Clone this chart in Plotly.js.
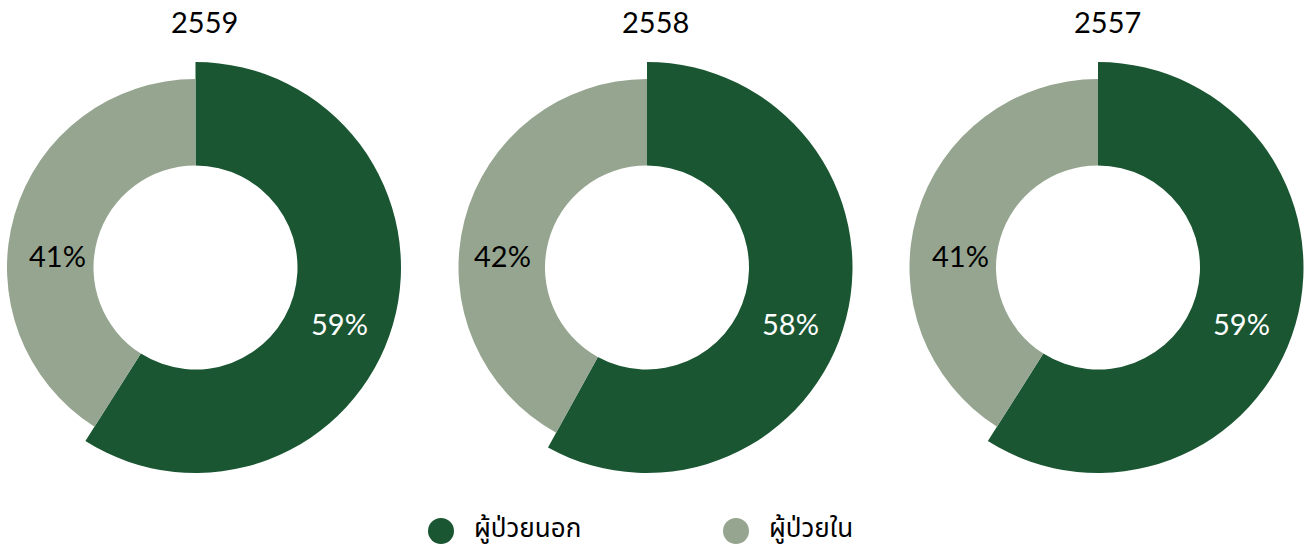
<!DOCTYPE html>
<html><head><meta charset="utf-8">
<script src="https://cdn.plot.ly/plotly-3.0.1.min.js"></script>
<style>html,body{margin:0;padding:0;overflow:hidden;background:#fff}#chart{position:absolute;left:-20px;top:0;width:1327px;height:551px}</style>
</head><body><div id="chart"></div>
<script>
const years = ['2559', '2558', '2557'];
const outpatient = [59, 58, 59];
const inpatient = [41, 42, 41];
const labels = ['ผู้ป่วยนอก', 'ผู้ป่วยใน'];
const colors = ['#1b5633', '#96a590'];

const W = 1327, H = 551;
const centersX = [215.5, 667, 1118];
const cy = 283.5;
const rBig = 205.5, rSmall = 188.5, rHole = 102;
const numFont = 'Lato, "Noto Sans", sans-serif';
// label offsets (px from donut centre) for each donut: [outpatient, inpatient]
const labelOffsets = [[[144, -56], [-138, 12]], [[143, -56], [-145, 12]], [[143, -56], [-138, 12]]];

const traces = [];
const annotations = [];
years.forEach((yr, i) => {
  const cx = centersX[i];
  const vals = [outpatient[i], inpatient[i]];
  traces.push({
    type: 'pie', values: vals, labels: labels, sort: false, direction: 'clockwise', rotation: 0,
    hole: rHole / rBig, showlegend: false, hoverinfo: 'skip', textinfo: 'none',
    marker: {colors: [colors[0], 'rgba(0,0,0,0)'], line: {width: 0}},
    domain: {x: [(cx - rBig) / W, (cx + rBig) / W], y: [(cy - rBig) / H, (cy + rBig) / H]}
  });
  traces.push({
    type: 'pie', values: vals, labels: labels, sort: false, direction: 'clockwise', rotation: 0,
    hole: rHole / rSmall, showlegend: false, hoverinfo: 'skip', textinfo: 'none',
    marker: {colors: ['rgba(0,0,0,0)', colors[1]], line: {width: 0}},
    domain: {x: [(cx - rSmall) / W, (cx + rSmall) / W], y: [(cy - rSmall) / H, (cy + rSmall) / H]}
  });
  const tot = vals[0] + vals[1];
  vals.forEach((v, k) => {
    annotations.push({
      text: Math.round(v / tot * 100) + '%', xref: 'paper', yref: 'paper',
      x: (cx + labelOffsets[i][k][0]) / W, y: (cy + labelOffsets[i][k][1]) / H,
      xanchor: 'center', yanchor: 'middle', showarrow: false,
      font: {family: numFont, size: 29, color: k === 0 ? '#ffffff' : '#000000'}
    });
  });
  annotations.push({
    text: yr, xref: 'paper', yref: 'paper', x: (cx + 9) / W, y: (H - 22) / H,
    xanchor: 'center', yanchor: 'middle', showarrow: false,
    font: {family: numFont, size: 29, color: '#000'}
  });
});

const legendX = [461, 756];
const shapes = [];
labels.forEach((lb, i) => {
  shapes.push({type: 'circle', xref: 'paper', yref: 'paper', xsizemode: 'pixel', ysizemode: 'pixel',
    xanchor: legendX[i] / W, yanchor: (H - 531) / H, x0: -13, x1: 13, y0: -13, y1: 13,
    fillcolor: colors[i], line: {width: 0}});
  annotations.push({
    text: lb, xref: 'paper', yref: 'paper', x: (legendX[i] + 31) / W, y: (H - 529) / H,
    xanchor: 'left', yanchor: 'middle', showarrow: false,
    font: {family: '"Noto Sans Thai", "Noto Sans", "DejaVu Sans", sans-serif', size: 26, color: '#000'}
  });
});

Plotly.newPlot('chart', traces, {
  width: W, height: H, margin: {l: 0, r: 0, t: 0, b: 0},
  paper_bgcolor: '#fff', plot_bgcolor: '#fff',
  showlegend: false, annotations: annotations, shapes: shapes
}, {displayModeBar: false, staticPlot: true});
</script></body></html>
